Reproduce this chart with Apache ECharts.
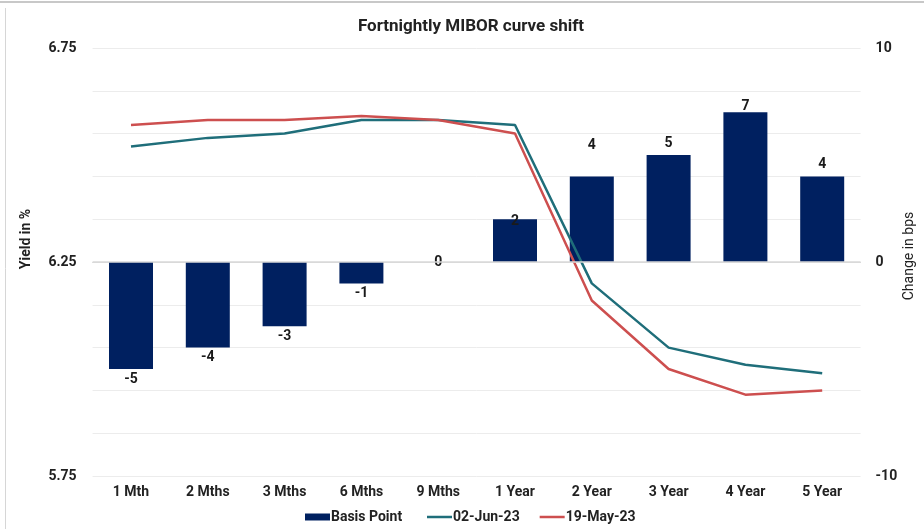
<!DOCTYPE html>
<html>
<head>
<meta charset="utf-8">
<script src="https://cdn.jsdelivr.net/npm/echarts@6/dist/echarts.min.js"></script>
<style>
html,body{margin:0;padding:0;background:#fff;}
#chart{width:924px;height:529px;}
</style>
</head>
<body>
<div id="chart"></div>
<script>
// ---- data ----
const categories = ['1 Mth','2 Mths','3 Mths','6 Mths','9 Mths','1 Year','2 Year','3 Year','4 Year','5 Year'];
const basisPoint = [-5,-4,-3,-1,0,2,4,5,7,4];
const jun02 = [6.52,6.54,6.55,6.582,6.582,6.57,6.20,6.05,6.01,5.99];
const may19 = [6.57,6.582,6.582,6.591,6.582,6.55,6.16,6.00,5.94,5.95];
const leftTicks = [5.75,6.25,6.75];
const rightTicks = [-10,0,10];

// ---- style ----
const FONT = 'Roboto';
const TXT = '#222222';
const FS = 14;
const labelShift = [0,0,0,0,0,14,-19,0,6,0];

const chart = echarts.init(document.getElementById('chart'));
const barData = basisPoint.map((v,i)=>({
  value: v,
  label: {
    position: v < 0 ? 'bottom' : (v === 0 ? 'inside' : 'top'),
    distance: v < 0 ? 3 : 5,
    offset: [0, labelShift[i]]
  }
}));
const legendText = {fontFamily:FONT,fontSize:FS,fontWeight:'bold',color:TXT,padding:[0,0,0,-4]};

chart.setOption({
  animation:false,
  title:{
    text:'Fortnightly MIBOR curve shift',
    left:466, top:13, textAlign:'center',
    textStyle:{fontFamily:FONT,fontSize:17,fontWeight:'bold',color:TXT}
  },
  grid:{left:92.6,right:63.4,top:48,bottom:53},
  legend:[
    {
      left:300, bottom:0, icon:'rect',
      itemWidth:25, itemHeight:7,
      textStyle:legendText,
      data:['Basis Point']
    },
    {
      left:422, bottom:0, icon:'rect',
      itemWidth:25, itemHeight:2.5, itemGap:20,
      textStyle:legendText,
      data:['02-Jun-23','19-May-23']
    }
  ],
  xAxis:{
    type:'category', data:categories,
    axisTick:{show:false},
    axisLine:{lineStyle:{color:'#d9d9d9',width:1}},
    axisLabel:{fontFamily:FONT,fontSize:FS,fontWeight:'bold',color:TXT,margin:9}
  },
  yAxis:[
    {
      type:'value', min:5.75, max:6.75, interval:0.25,
      splitLine:{show:false}, axisLine:{show:false}, axisTick:{show:false},
      axisLabel:{fontFamily:FONT,fontSize:FS,fontWeight:'bold',color:TXT,margin:16,
        formatter:v=>leftTicks.some(t=>Math.abs(t-v)<1e-6)?v.toFixed(2):''}
    },
    {
      type:'value', min:-10, max:10, interval:2,
      splitLine:{lineStyle:{color:'#ececec',width:1}},
      axisLine:{show:false}, axisTick:{show:false},
      axisLabel:{fontFamily:FONT,fontSize:FS,fontWeight:'bold',color:TXT,margin:15,
        formatter:v=>rightTicks.includes(v)?String(v):''}
    }
  ],
  series:[
    {
      name:'Basis Point', type:'bar', yAxisIndex:1, data:barData,
      barWidth:44,
      itemStyle:{color:'#002060'},
      label:{show:true,fontFamily:FONT,fontSize:FS,fontWeight:'bold',color:'#1a1a1a'},
      markLine:{silent:true,symbol:'none',label:{show:false},
        lineStyle:{color:'#d9d9d9',width:1.5,type:'solid'},data:[{yAxis:0}]},
      z:2
    },
    {
      name:'02-Jun-23', type:'line', yAxisIndex:0, data:jun02,
      symbol:'none', lineStyle:{color:'#1f6e7a',width:2.5}, itemStyle:{color:'#1f6e7a'}, z:3
    },
    {
      name:'19-May-23', type:'line', yAxisIndex:0, data:may19,
      symbol:'none', lineStyle:{color:'#cd4f4f',width:2.5}, itemStyle:{color:'#cd4f4f'}, z:3
    }
  ],
  graphic:[
    {type:'line',shape:{x1:0,y1:2,x2:924,y2:2},style:{stroke:'#c8c8c8',lineWidth:2},silent:true},
    {type:'line',shape:{x1:5.5,y1:8,x2:5.5,y2:529},style:{stroke:'#d6d6d6',lineWidth:1},silent:true},
    {type:'text',x:26,y:239,rotation:Math.PI/2,
      style:{text:'Yield in %',fontFamily:FONT,fontSize:FS,fontWeight:'bold',fill:TXT,textAlign:'center',textVerticalAlign:'middle'}},
    {type:'text',x:909,y:256,rotation:Math.PI/2,
      style:{text:'Change in bps',fontFamily:FONT,fontSize:FS,fontWeight:'normal',fill:TXT,textAlign:'center',textVerticalAlign:'middle'}}
  ]
});
</script>
</body>
</html>
